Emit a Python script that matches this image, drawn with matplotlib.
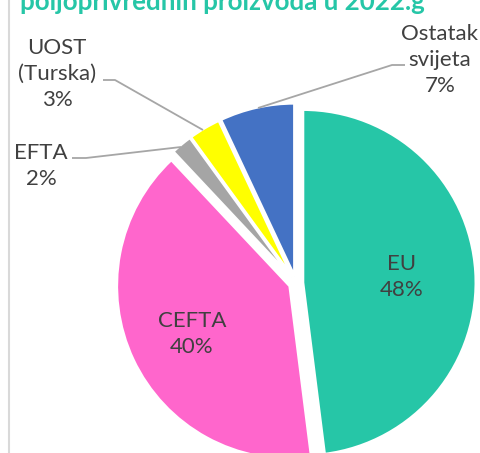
import matplotlib.pyplot as plt
from matplotlib.lines import Line2D

labels = ["EU", "CEFTA", "EFTA", "UOST\n(Turska)", "Ostatak\nsvijeta"]
shares = [48, 40, 2, 3, 7]
colors = ["#26C6A7", "#FF66CC", "#A5A5A5", "#FFFF00", "#4472C4"]
title = "poljoprivrednih proizvoda u 2022.g"

W, H = 481, 453
CX, CY, R = 296, 283, 173  # pie centre / radius in pixels


def px(x, y):
    # pixel position -> data coords of the pie axes
    return (x - CX) / R, (CY - y) / R


fig = plt.figure(figsize=(W / 100, H / 100), dpi=100)
ax = fig.add_axes([0, 0, 1, 1])

ax.pie(shares, colors=colors, startangle=90, counterclock=False,
       explode=[0.04] * len(shares), radius=1,
       wedgeprops=dict(edgecolor='white', linewidth=2))

# limits match the pixel scale, so no aspect fixing needed
ax.set_aspect('auto')
ax.set_xlim(-CX / R, (W - CX) / R)
ax.set_ylim(-(H - CY) / R, CY / R)
ax.axis('off')

txt = dict(fontsize=16, color='#404040', family='Lato', ha='center', va='center', linespacing=1.38)

# labels inside
ax.text(*px(402, 277), f"{labels[0]}\n{shares[0]}%", **txt)
ax.text(*px(192, 334), f"{labels[1]}\n{shares[1]}%", **txt)

# labels outside with leader lines
ax.text(*px(41, 166), f"{labels[2]}\n{shares[2]}%", **txt)
ax.text(*px(57, 74), f"{labels[3]}\n{shares[3]}%", **txt)
ax.text(*px(440, 60), f"{labels[4]}\n{shares[4]}%", **txt)

leaders = [
    [(72, 158), (86, 158), (181, 147)],
    [(103, 80), (115, 80), (203, 130)],
    [(405, 65), (392, 65), (258, 108)],
]
for pts in leaders:
    xs, ys = zip(*[px(x, y) for x, y in pts])
    ax.plot(xs, ys, color='#A6A6A6', lw=1.3, solid_capstyle='butt')

fig.text(20 / W, 1 - 10 / H, title, fontsize=18.6, fontweight='bold',
         color='#26C6A7', family='Lato', ha='left', va='baseline')

fig.add_artist(Line2D([8.5 / W, 8.5 / W], [0, 1], color='#D9D9D9', lw=1.5))

fig.savefig('out.png', dpi=100)
